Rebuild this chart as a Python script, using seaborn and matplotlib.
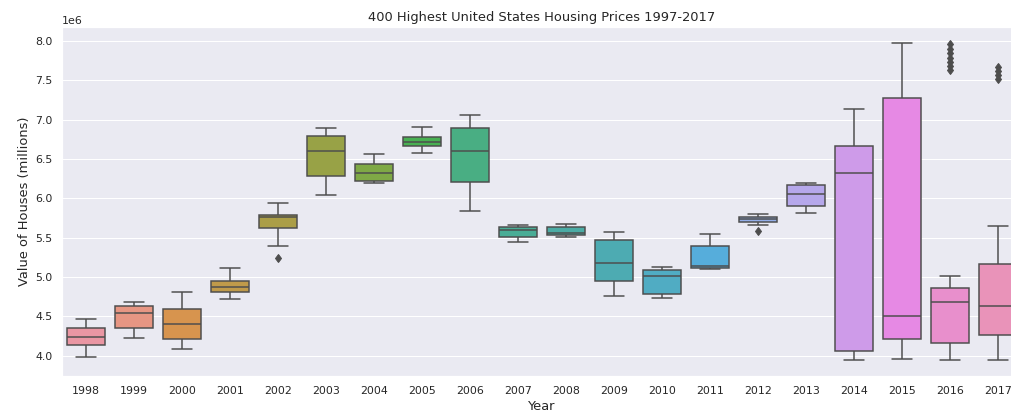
import pandas as pd
import matplotlib.pyplot as plt
import seaborn as sns

years = [str(y) for y in range(1998, 2018)]

# prices per year (dollars)
p1998 = [3.99e6, 4.14e6, 4.24e6, 4.35e6, 4.47e6]
p1999 = [4.22e6, 4.35e6, 4.55e6, 4.63e6, 4.68e6]
p2000 = [4.085e6, 4.21e6, 4.405e6, 4.595e6, 4.81e6]
p2001 = [4.72e6, 4.81e6, 4.88e6, 4.95e6, 5.12e6]
p2002 = [5.245e6, 5.40e6, 5.625e6, 5.70e6, 5.76e6, 5.77e6, 5.785e6, 5.86e6, 5.94e6]
p2003 = [6.04e6, 6.29e6, 6.60e6, 6.79e6, 6.89e6]
p2004 = [6.195e6, 6.22e6, 6.32e6, 6.43e6, 6.56e6]
p2005 = [6.575e6, 6.66e6, 6.72e6, 6.78e6, 6.90e6]
p2006 = [5.84e6, 6.21e6, 6.60e6, 6.89e6, 7.06e6]
p2007 = [5.44e6, 5.51e6, 5.595e6, 5.635e6, 5.66e6]
p2008 = [5.51e6, 5.535e6, 5.565e6, 5.635e6, 5.675e6]
p2009 = [4.76e6, 4.95e6, 5.185e6, 5.47e6, 5.57e6]
p2010 = [4.74e6, 4.79e6, 5.02e6, 5.09e6, 5.13e6]
p2011 = [5.105e6, 5.12e6, 5.14e6, 5.39e6, 5.55e6]
p2012 = [5.585e6, 5.66e6, 5.70e6, 5.72e6, 5.735e6, 5.75e6, 5.76e6, 5.78e6, 5.80e6]
p2013 = [5.815e6, 5.90e6, 6.06e6, 6.17e6, 6.20e6]
p2014 = [3.945e6, 4.06e6, 6.32e6, 6.67e6, 7.13e6]
p2015 = [3.96e6, 4.215e6, 4.50e6, 7.27e6, 7.975e6]
p2016 = [3.945e6, 3.97e6, 4.00e6, 4.03e6, 4.06e6, 4.09e6, 4.12e6, 4.14e6,
         4.165e6, 4.23e6, 4.30e6, 4.38e6, 4.46e6, 4.54e6, 4.61e6, 4.65e6,
         4.68e6, 4.70e6, 4.72e6, 4.74e6, 4.77e6, 4.80e6, 4.82e6, 4.84e6,
         4.86e6, 5.02e6,
         7.63e6, 7.68e6, 7.73e6, 7.78e6, 7.84e6, 7.90e6, 7.96e6]
p2017 = [3.945e6, 4.02e6, 4.10e6, 4.17e6, 4.22e6,
         4.27e6, 4.38e6, 4.46e6, 4.53e6, 4.59e6,
         4.63e6, 4.75e6, 4.87e6, 4.98e6, 5.08e6,
         5.16e6, 5.645e6,
         7.52e6, 7.57e6, 7.62e6, 7.67e6]

prices = [p1998, p1999, p2000, p2001, p2002, p2003, p2004, p2005, p2006, p2007,
          p2008, p2009, p2010, p2011, p2012, p2013, p2014, p2015, p2016, p2017]

rows = []
for yr, vals in zip(years, prices):
    for v in vals:
        rows.append({"Year": yr, "Value": v})
df = pd.DataFrame(rows)

sns.set_theme(style="darkgrid")

fig = plt.figure(figsize=(1011 / 72, 417 / 72), dpi=72)
ax = fig.add_axes([62 / 1011, 41 / 417, 960 / 1011, 349 / 417])

sns.boxplot(
    data=df, x="Year", y="Value", hue="Year", order=years,
    palette=sns.husl_palette(len(years), l=.7), saturation=0.75,
    legend=False, ax=ax,
    linecolor="#4d4d4d", linewidth=1.5, width=0.8,
    flierprops=dict(marker="d", markersize=6,
                    markerfacecolor="#4d4d4d", markeredgecolor="#4d4d4d"),
)

ax.set_title("400 Highest United States Housing Prices 1997-2017", fontsize=13)
ax.set_xlabel("Year", fontsize=13)
ax.set_ylabel("Value of Houses (millions)", fontsize=13)

fig.savefig("out.png", dpi=72)
